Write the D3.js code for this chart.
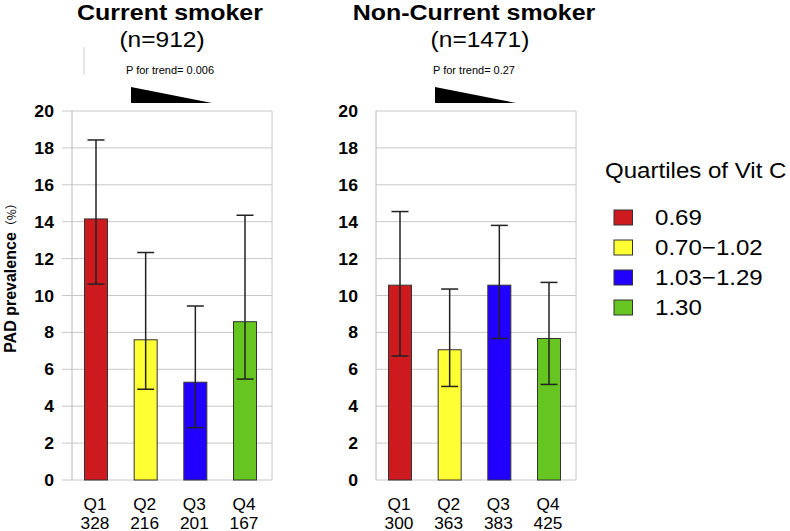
<!DOCTYPE html>
<html>
<head>
<meta charset="utf-8">
<script src="https://cdn.jsdelivr.net/npm/d3@7"></script>
<style>
  body { margin: 0; background: #fff; }
  svg { display: block; font-family: "Liberation Sans", Arial, sans-serif; }
</style>
</head>
<body>
<div id="chart"></div>
<script>
// -------- data --------
var quartiles = ['Q1', 'Q2', 'Q3', 'Q4'];
var quartileLabels = ['0.69', '0.70\u22121.02', '1.03\u22121.29', '1.30'];
var quartileColors = ['#cc1a1e', '#ffff33', '#2200ff', '#66c520'];
var yTicks = [0, 2, 4, 6, 8, 10, 12, 14, 16, 18, 20];

var smokerN = [328, 216, 201, 167];
var smokerPrev = [14.15, 7.6, 5.3, 8.58];
var smokerLow = [10.62, 4.92, 2.84, 5.47];
var smokerHigh = [18.43, 12.33, 9.43, 14.35];

var nonSmokerN = [300, 363, 383, 425];
var nonSmokerPrev = [10.56, 7.06, 10.56, 7.67];
var nonSmokerLow = [6.72, 5.07, 7.67, 5.18];
var nonSmokerHigh = [14.55, 10.35, 13.8, 10.71];

var panels = [
  { title: 'Current smoker', sub: '(n=912)', p: 'P for trend= 0.006', x0: 72, n: smokerN, prev: smokerPrev, low: smokerLow, high: smokerHigh, ticks: true },
  { title: 'Non-Current smoker', sub: '(n=1471)', p: 'P for trend= 0.27', x0: 376, n: nonSmokerN, prev: nonSmokerPrev, low: nonSmokerLow, high: nonSmokerHigh, ticks: false }
];

// -------- canvas --------
var width = 790, height = 531;
var sx = 1.1; // the picture is a bit wide, stretch the text to match
var svg = d3.select('#chart').append('svg').attr('width', width).attr('height', height);

var y = d3.scaleLinear().domain([0, 20]).range([480, 111]);
var panelW = 200;

// text helper, stretched horizontally
var addText = function(g, x, yy, txt, size, weight, anchor, stretch) {
  return g.append('text')
    .attr('transform', 'translate(' + x + ',' + yy + ') scale(' + (stretch || sx) + ',1)')
    .attr('text-anchor', anchor || 'middle')
    .attr('font-size', size)
    .attr('font-weight', weight || 'normal')
    .attr('fill', '#000')
    .text(txt);
};

panels.forEach(function(pn) {
  var g = svg.append('g');
  var x = d3.scalePoint().domain(quartiles).range([pn.x0 + 24, pn.x0 + 173]);
  var cx = pn.x0 + 98;

  // titles
  addText(g, cx, 20, pn.title, 22.5, 'bold', 'middle', 1.11);
  addText(g, cx + (pn.ticks ? -8 : 6), 47, pn.sub, 21.5, 'normal', 'middle', 1.14);
  addText(g, cx, 74, pn.p, 10, 'normal', 'middle', 1.1);

  // trend triangle
  g.append('path')
    .attr('d', 'M' + (pn.x0 + 59) + ',87 L' + (pn.x0 + 59) + ',103 L' + (pn.x0 + 140) + ',103 Z')
    .attr('fill', '#000');

  // grid + ticks
  g.selectAll('.grid').data(yTicks).enter().append('line')
    .attr('x1', pn.ticks ? pn.x0 - 10 : pn.x0).attr('x2', pn.x0 + panelW)
    .attr('y1', function(d) { return y(d); }).attr('y2', function(d) { return y(d); })
    .attr('stroke', '#c8c8c8').attr('stroke-width', 1);
  g.append('line').attr('x1', pn.x0).attr('x2', pn.x0).attr('y1', y(20)).attr('y2', y(0)).attr('stroke', '#b8b8b8');
  g.append('line').attr('x1', pn.x0 + panelW).attr('x2', pn.x0 + panelW).attr('y1', y(20)).attr('y2', y(0)).attr('stroke', '#c8c8c8');

  g.selectAll('.tick').data(yTicks).enter().append('text')
    .attr('transform', function(d) { return 'translate(' + (pn.x0 - 18) + ',' + (y(d) + 6) + ') scale(1.07,1)'; })
    .attr('text-anchor', 'end').attr('font-size', 16.5).attr('font-weight', 'bold')
    .text(function(d) { return d; });

  // bars
  var bw = 23;
  g.selectAll('.bar').data(quartiles).enter().append('rect')
    .attr('x', function(d) { return x(d) - bw / 2; })
    .attr('y', function(d, i) { return y(pn.prev[i]); })
    .attr('width', bw)
    .attr('height', function(d, i) { return y(0) - y(pn.prev[i]); })
    .attr('fill', function(d, i) { return quartileColors[i]; })
    .attr('stroke', '#333').attr('stroke-width', 1);

  // error bars
  var cw = 8.5;
  g.selectAll('.err').data(quartiles).enter().append('line')
    .attr('x1', function(d) { return x(d); }).attr('x2', function(d) { return x(d); })
    .attr('y1', function(d, i) { return y(pn.low[i]); }).attr('y2', function(d, i) { return y(pn.high[i]); })
    .attr('stroke', '#222').attr('stroke-width', 1.5);
  [pn.low, pn.high].forEach(function(arr) {
    g.selectAll('.cap').data(quartiles).enter().append('line')
      .attr('x1', function(d) { return x(d) - cw; }).attr('x2', function(d) { return x(d) + cw; })
      .attr('y1', function(d, i) { return y(arr[i]); }).attr('y2', function(d, i) { return y(arr[i]); })
      .attr('stroke', '#222').attr('stroke-width', 1.5);
  });

  // x labels
  quartiles.forEach(function(q, i) {
    addText(g, x(q) - 1, 509.5, q, 16, 'normal', 'middle', 1.08);
    addText(g, x(q) - 1, 528.5, pn.n[i], 16, 'normal', 'middle', 1.08);
  });
});

// small grey stroke above left panel
svg.append('line').attr('x1', 84).attr('x2', 84).attr('y1', 47).attr('y2', 75).attr('stroke', '#d0d0d0');

// y axis title
var yt = svg.append('text')
  .attr('transform', 'translate(15.5,275) rotate(-90)')
  .attr('text-anchor', 'middle');
yt.append('tspan').attr('font-size', 16).attr('font-weight', 'bold').text('PAD prevalence');
yt.append('tspan').attr('font-size', 12).attr('font-family', '"Noto Sans CJK SC", sans-serif').text('\uff08%\uff09');

// legend
var lg = svg.append('g');
addText(lg, 605, 178, 'Quartiles of Vit C', 21.5, 'normal', 'start', 1.12);
quartileLabels.forEach(function(lab, i) {
  var yy = 210 + i * 30;
  lg.append('rect').attr('x', 614).attr('y', yy).attr('width', 18.5).attr('height', 15)
    .attr('fill', quartileColors[i]).attr('stroke', '#333').attr('stroke-width', 1);
  addText(lg, 655, yy + 15, lab, 21.5, 'normal', 'start', 1.12);
});
</script>
</body>
</html>
